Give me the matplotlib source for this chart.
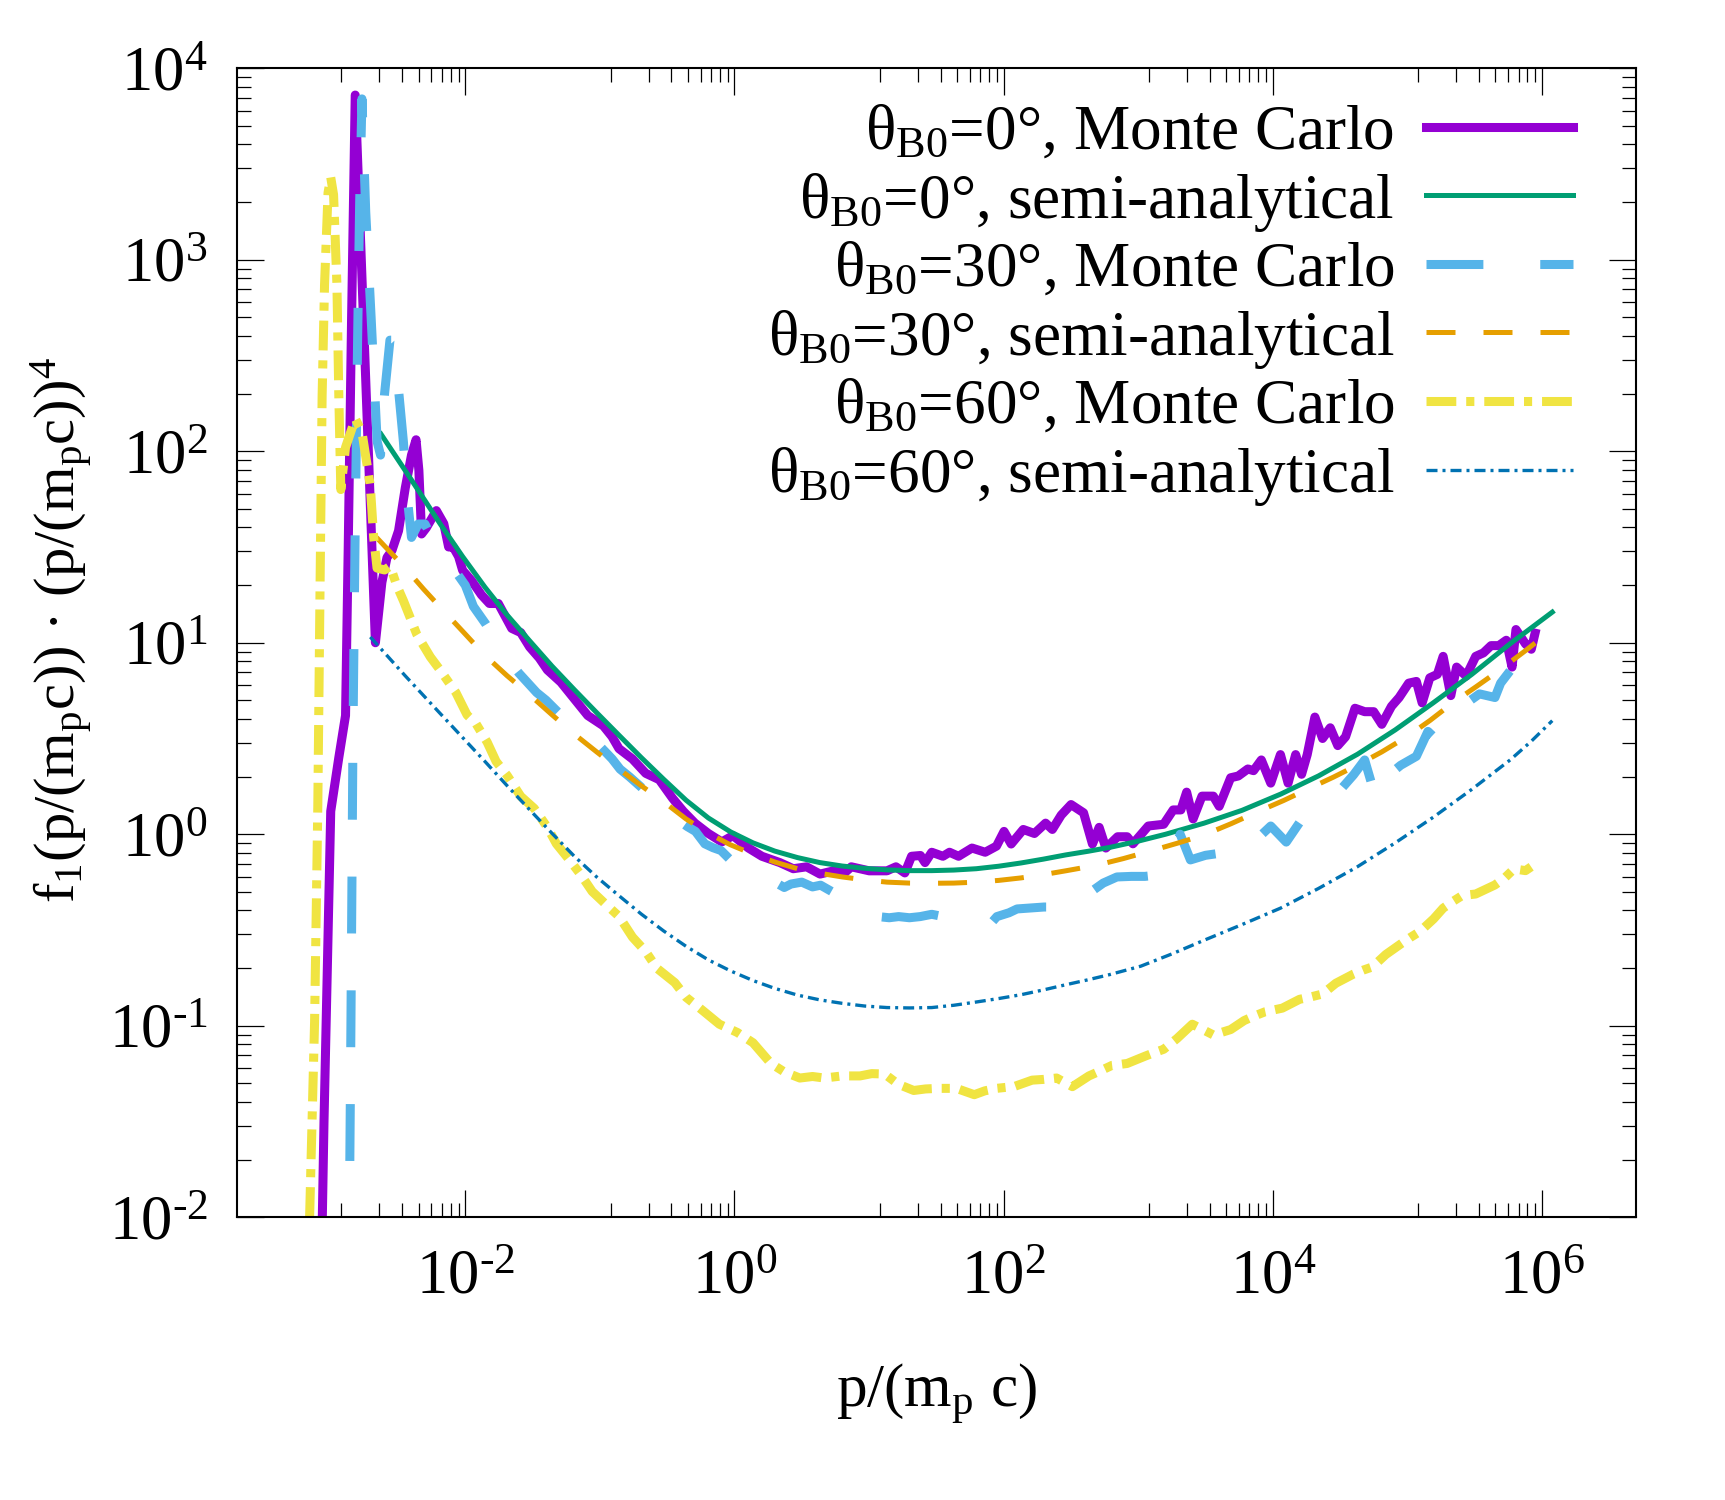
import numpy as np
import matplotlib
matplotlib.use("Agg")
import matplotlib.pyplot as plt
from matplotlib.ticker import FixedLocator, FuncFormatter, LogLocator, NullFormatter

plt.rcParams['font.family'] = ['Liberation Serif', 'DejaVu Serif']
plt.rcParams['mathtext.fontset'] = 'custom'
plt.rcParams['mathtext.rm'] = 'Liberation Serif'
plt.rcParams['mathtext.it'] = 'Liberation Serif:italic'
plt.rcParams['mathtext.default'] = 'regular'

# values, as log10(p/(m_p c)) and log10(f1 * p^4)
# theta_B0 = 0, Monte Carlo
mc0_lp = [-3.07, -3.05, -3.00, -2.94, -2.89, -2.87, -2.845, -2.818, -2.78, -2.74,
          -2.70, -2.668, -2.62, -2.582, -2.545, -2.496, -2.446, -2.40, -2.366, -2.345,
          -2.325, -2.29, -2.215, -2.16, -2.124, -2.09, -2.05, -2.02, -1.953, -1.88,
          -1.821, -1.755, -1.655, -1.588, -1.522, -1.45, -1.39, -1.29, -1.19, -1.09,
          -0.974, -0.91, -0.858, -0.758, -0.659, -0.559, -0.46, -0.38, -0.294, -0.194,
          -0.094, -0.011, 0.104, 0.204, 0.337, 0.437, 0.536, 0.636, 0.736, 0.818,
          0.868, 1.001, 1.133, 1.200, 1.266, 1.316, 1.382, 1.416, 1.466, 1.549,
          1.598, 1.665, 1.765, 1.863, 1.947, 2.003, 2.056, 2.146, 2.229, 2.312,
          2.362, 2.428, 2.501, 2.594, 2.660, 2.710, 2.760, 2.847, 2.918, 2.961,
          3.075, 3.189, 3.260, 3.317, 3.360, 3.408, 3.474, 3.558, 3.602, 3.687,
          3.743, 3.815, 3.857, 3.915, 3.985, 4.057, 4.114, 4.170, 4.214, 4.256,
          4.313, 4.370, 4.427, 4.483, 4.541, 4.611, 4.683, 4.75, 4.81, 4.882,
          4.939, 5.010, 5.067, 5.110, 5.167, 5.223, 5.266, 5.323, 5.366, 5.437,
          5.508, 5.565, 5.622, 5.679, 5.735, 5.778, 5.807, 5.878, 5.921, 5.949]
mc0_lf = [-2.3, -1.5, 0.12, 0.40, 0.62, 1.50, 2.70, 3.86, 3.14, 2.37,
          1.61, 1.00, 1.315, 1.445, 1.482, 1.585, 1.809, 1.98, 2.06, 1.90,
          1.568, 1.60, 1.69, 1.622, 1.50, 1.50, 1.45, 1.378, 1.324, 1.25,
          1.205, 1.205, 1.075, 1.053, 0.978, 0.92, 0.858, 0.794, 0.707, 0.620,
          0.566, 0.51, 0.447, 0.393, 0.318, 0.285, 0.188, 0.12, 0.058, 0.004,
          -0.040, -0.007, -0.072, -0.115, -0.148, -0.180, -0.170, -0.208, -0.191, -0.202,
          -0.170, -0.191, -0.191, -0.170, -0.202, -0.115, -0.111, -0.148, -0.094, -0.115,
          -0.094, -0.115, -0.072, -0.094, -0.062, 0.015, -0.051, 0.025, 0.004, 0.058,
          0.025, 0.100, 0.155, 0.112, -0.051, 0.036, -0.072, -0.013, -0.013, -0.050,
          0.043, 0.052, 0.127, 0.127, 0.220, 0.080, 0.199, 0.199, 0.146, 0.295,
          0.304, 0.341, 0.332, 0.388, 0.267, 0.416, 0.267, 0.416, 0.313, 0.416,
          0.612, 0.500, 0.556, 0.463, 0.509, 0.658, 0.640, 0.64, 0.574, 0.668,
          0.714, 0.789, 0.798, 0.686, 0.817, 0.835, 0.929, 0.724, 0.873, 0.826,
          0.929, 0.947, 0.985, 0.985, 1.013, 0.873, 1.069, 0.994, 0.966, 1.050]

# theta_B0 = 0, semi-analytical
sa0_lp = [-2.627, -2.40, -2.186, -2.02, -1.854, -1.69, -1.522, -1.356, -1.19, -1.024,
          -0.858, -0.692, -0.526, -0.36, -0.194, -0.028, 0.138, 0.30, 0.469, 0.635,
          0.801, 0.967, 1.133, 1.30, 1.466, 1.63, 1.797, 1.963, 2.129, 2.295,
          2.461, 2.627, 2.793, 3.0, 3.203, 3.49, 3.772, 4.06, 4.341, 4.63,
          4.91, 5.19, 5.479, 5.764, 6.077]
sa0_lf = [2.09, 1.85, 1.62, 1.45, 1.29, 1.145, 1.01, 0.878, 0.755, 0.635,
          0.517, 0.400, 0.287, 0.178, 0.085, 0.012, -0.045, -0.088, -0.122, -0.148,
          -0.166, -0.178, -0.186, -0.190, -0.190, -0.187, -0.180, -0.167, -0.150, -0.130,
          -0.108, -0.089, -0.068, -0.036, 0.0, 0.058, 0.125, 0.21, 0.305, 0.418,
          0.545, 0.685, 0.835, 0.995, 1.16]

# theta_B0 = 30, Monte Carlo
mc30_lp = [-2.865, -2.85, -2.835, -2.82, -2.80, -2.785, -2.768, -2.74, -2.70, -2.655,
           -2.63, -2.60, -2.56, -2.53, -2.50, -2.46, -2.43, -2.40, -2.35, -2.30,
           -2.25, -2.20, -2.15, -2.10, -2.05, -2.00, -1.94, -1.85, -1.78, -1.72,
           -1.60, -1.47, -1.40, -1.30, -1.19, -1.10, -1.00, -0.91, -0.85, -0.78,
           -0.70, -0.64, -0.55, -0.45, -0.35, -0.29, -0.22, -0.16, -0.10, -0.01,
           0.10, 0.20, 0.30, 0.37, 0.42, 0.50, 0.58, 0.64, 0.70, 0.80,
           0.90, 1.00, 1.067, 1.15, 1.22, 1.30, 1.38, 1.466, 1.55, 1.65,
           1.75, 1.847, 1.90, 1.95, 2.04, 2.10, 2.18, 2.30, 2.40, 2.527,
           2.62, 2.67, 2.74, 2.842, 2.95, 3.05, 3.20, 3.312, 3.388, 3.50,
           3.60, 3.70, 3.80, 3.857, 3.92, 3.985, 4.10, 4.20, 4.284, 4.384,
           4.50, 4.60, 4.683, 4.768, 4.82, 4.868, 4.95, 5.067, 5.153, 5.209,
           5.309, 5.40, 5.47, 5.536, 5.651, 5.693, 5.764, 5.821, 5.88, 5.94]
mc30_lf = [-2.3, -1.0, 0.5, 1.5, 2.6, 3.3, 3.84, 3.25, 2.70, 2.05,
           1.98, 2.30, 2.58, 2.58, 2.35, 2.05, 1.75, 1.55, 1.62, 1.62,
           1.55, 1.48, 1.45, 1.40, 1.35, 1.30, 1.19, 1.10, 1.02, 0.945,
           0.84, 0.74, 0.70, 0.63, 0.58, 0.52, 0.46, 0.394, 0.34, 0.30,
           0.25, 0.21, 0.15, 0.09, 0.04, 0.015, -0.05, -0.07, -0.085, -0.148,
           -0.19, -0.22, -0.25, -0.278, -0.26, -0.25, -0.275, -0.266, -0.29, -0.33,
           -0.37, -0.41, -0.43, -0.436, -0.43, -0.436, -0.43, -0.418, -0.43, -0.44,
           -0.45, -0.462, -0.47, -0.43, -0.41, -0.39, -0.386, -0.38, -0.38, -0.375,
           -0.36, -0.29, -0.255, -0.223, -0.22, -0.22, -0.209, 0.0, -0.134, -0.11,
           -0.10, -0.094, -0.097, -0.022, 0.0, 0.043, -0.041, 0.062, 0.127, 0.164,
           0.23, 0.31, 0.388, 0.183, 0.28, 0.313, 0.36, 0.407, 0.537, 0.50,
           0.574, 0.64, 0.70, 0.733, 0.714, 0.789, 0.854, 0.817, 0.90, 0.98]

# theta_B0 = 30, semi-analytical
sa30_lp = [-2.66, -2.446, -2.31, -2.186, -2.02, -1.854, -1.69, -1.522, -1.356, -1.19,
           -1.024, -0.858, -0.692, -0.526, -0.36, -0.194, -0.03, 0.138, 0.30, 0.469,
           0.635, 0.801, 0.967, 1.133, 1.30, 1.466, 1.63, 1.797, 1.963, 2.129,
           2.295, 2.461, 2.69, 2.89, 3.089, 3.29, 3.488, 3.69, 3.886, 4.08,
           4.27, 4.45, 4.626, 4.81, 4.996, 5.17, 5.337, 5.51, 5.679, 5.88,
           6.077]
sa30_lf = [1.55, 1.39, 1.28, 1.185, 1.06, 0.934, 0.828, 0.728, 0.624, 0.523,
           0.43, 0.340, 0.253, 0.17, 0.08, 0.005, -0.055, -0.104, -0.145, -0.18,
           -0.204, -0.223, -0.238, -0.250, -0.255, -0.256, -0.255, -0.250, -0.241, -0.228,
           -0.211, -0.191, -0.162, -0.127, -0.088, -0.047, -0.004, 0.055, 0.117, 0.176,
           0.239, 0.298, 0.36, 0.43, 0.509, 0.595, 0.686, 0.77, 0.854, 0.96,
           1.069]

# theta_B0 = 60, Monte Carlo
mc60_lp = [-3.17, -3.157, -3.12, -3.096, -3.079, -3.064, -3.046, -3.02, -3.00, -2.979,
           -2.954, -2.94, -2.925, -2.89, -2.818, -2.768, -2.706, -2.681, -2.656, -2.60,
           -2.558, -2.51, -2.459, -2.36, -2.26, -2.19, -2.07, -1.987, -1.92, -1.837,
           -1.771, -1.688, -1.588, -1.488, -1.39, -1.323, -1.223, -1.14, -1.057, -0.959,
           -0.858, -0.758, -0.659, -0.576, -0.443, -0.36, -0.244, -0.112, 0.021, 0.138,
           0.271, 0.37, 0.486, 0.58, 0.668, 0.801, 0.933, 1.02, 1.116, 1.216,
           1.332, 1.42, 1.515, 1.649, 1.782, 1.86, 1.947, 2.08, 2.212, 2.30,
           2.394, 2.511, 2.634, 2.72, 2.805, 2.918, 3.047, 3.12, 3.189, 3.288,
           3.402, 3.48, 3.558, 3.687, 3.787, 3.86, 3.943, 4.071, 4.199, 4.28,
           4.37, 4.469, 4.597, 4.67, 4.74, 4.84, 4.953, 5.02, 5.095, 5.195,
           5.266, 5.34, 5.408, 5.508, 5.65, 5.72, 5.793, 5.878, 5.92]
mc60_lf = [-2.3, -2.0, -0.98, 0.15, 1.32, 2.29, 2.87, 3.35, 3.43, 3.34,
           2.87, 2.29, 1.80, 2.02, 2.17, 2.10, 1.82, 1.55, 1.39, 1.38,
           1.40, 1.30, 1.218, 1.043, 0.926, 0.86, 0.74, 0.623, 0.577, 0.48,
           0.38, 0.306, 0.198, 0.135, 0.036, -0.05, -0.137, -0.213, -0.299, -0.364,
           -0.429, -0.537, -0.613, -0.70, -0.775, -0.851, -0.916, -0.992, -1.035, -1.089,
           -1.197, -1.241, -1.273, -1.265, -1.273, -1.262, -1.262, -1.25, -1.252, -1.305,
           -1.338, -1.33, -1.327, -1.327, -1.36, -1.34, -1.327, -1.317, -1.284, -1.28,
           -1.273, -1.318, -1.262, -1.235, -1.207, -1.197, -1.16, -1.14, -1.123, -1.067,
           -0.992, -1.02, -1.048, -1.02, -0.973, -0.95, -0.927, -0.908, -0.862, -0.85,
           -0.834, -0.778, -0.731, -0.71, -0.693, -0.628, -0.572, -0.54, -0.507, -0.442,
           -0.386, -0.35, -0.32, -0.312, -0.265, -0.23, -0.181, -0.19, -0.17]

# theta_B0 = 60, semi-analytical
sa60_lp = [-2.706, -2.45, -2.186, -2.02, -1.854, -1.69, -1.522, -1.356, -1.19, -1.024,
           -0.858, -0.692, -0.526, -0.36, -0.194, -0.028, 0.138, 0.30, 0.469, 0.635,
           0.801, 0.967, 1.133, 1.30, 1.466, 1.63, 1.797, 1.963, 2.129, 2.295,
           2.461, 2.627, 2.793, 3.019, 3.25, 3.488, 3.77, 4.057, 4.34, 4.626,
           4.91, 5.195, 5.48, 5.764, 5.92, 6.077]
sa60_lf = [1.03, 0.83, 0.63, 0.505, 0.38, 0.254, 0.128, 0.005, -0.115, -0.223,
           -0.321, -0.417, -0.505, -0.585, -0.656, -0.714, -0.764, -0.805, -0.840, -0.865,
           -0.883, -0.897, -0.905, -0.907, -0.905, -0.893, -0.876, -0.858, -0.838, -0.813,
           -0.786, -0.760, -0.732, -0.689, -0.625, -0.554, -0.472, -0.386, -0.283, -0.171,
           -0.045, 0.090, 0.235, 0.388, 0.485, 0.593]

labels = ['θ$_{B0}$=0°, Monte Carlo',
          'θ$_{B0}$=0°, semi-analytical',
          'θ$_{B0}$=30°, Monte Carlo',
          'θ$_{B0}$=30°, semi-analytical',
          'θ$_{B0}$=60°, Monte Carlo',
          'θ$_{B0}$=60°, semi-analytical']

x_major = [1e-4, 1e-2, 1e0, 1e2, 1e4, 1e6, 1e8]

FS_TICK = 45
FS_LEG = 45.5

fig = plt.figure(figsize=(17.25, 15), dpi=100)
ax = fig.add_axes([0.1372, 0.1885, 0.8112, 0.766])

series = [
    (mc0_lp, mc0_lf, '#9400D3', 6.5, '-'),
    (sa0_lp, sa0_lf, '#009E73', 3.6, '-'),
    (mc30_lp, mc30_lf, '#56B4E9', 6.5, (0, (6.3, 6.3))),
    (sa30_lp, sa30_lf, '#E69F00', 3.6, (0, (5.8, 5.6))),
    (mc60_lp, mc60_lf, '#F0E442', 6.5, (0, (3.3, 1.1, 0.9, 1.1))),
    (sa60_lp, sa60_lf, '#0072B2', 2.4, (0, (3.3, 1.5, 0.9, 1.5))),
]
for (lp, lf, color, lw, ls), lab in zip(series, labels):
    ax.plot(10.0 ** np.array(lp), 10.0 ** np.array(lf), color=color, lw=lw,
            ls=ls, label=lab)

ax.set_xscale('log')
ax.set_yscale('log')
ax.set_xlim(2e-4, 5e6)
ax.set_ylim(1e-2, 1e4)

# gnuplot style minor tics: 8 linear steps between labelled decades
x_minor = []
for lo, hi in zip(x_major[:-1], x_major[1:]):
    x_minor += [lo + j * (hi - lo) / 9 for j in range(1, 9)]


def pow_label(v, pos):
    e = int(round(np.log10(v)))
    if e < 0:
        return r'$10^{\text{-}%d}$' % (-e)
    return r'$10^{%d}$' % e


fmt = FuncFormatter(pow_label)
ax.xaxis.set_major_locator(FixedLocator(x_major))
ax.xaxis.set_minor_locator(FixedLocator(x_minor))
ax.xaxis.set_major_formatter(fmt)
ax.xaxis.set_minor_formatter(NullFormatter())
ax.yaxis.set_major_locator(LogLocator(base=10, numticks=20))
ax.yaxis.set_minor_locator(LogLocator(base=10, subs=np.arange(2, 10), numticks=20))
ax.yaxis.set_major_formatter(fmt)
ax.yaxis.set_minor_formatter(NullFormatter())

ax.tick_params(which='both', direction='in', top=True, right=True, width=0.9)
ax.tick_params(which='major', length=19.5, labelsize=FS_TICK)
ax.tick_params(which='minor', length=10)
ax.tick_params(axis='x', which='major', pad=23)
ax.tick_params(axis='y', which='major', pad=21)
for sp in ax.spines.values():
    sp.set_linewidth(1.5)

ax.set_xlabel('p/(m$_{p}$ c)', fontsize=44)
ax.xaxis.set_label_coords(0.5, -0.126)
ax.set_ylabel('f$_{1}$(p/(m$_{p}$c)) · (p/(m$_{p}$c))$^{4}$', fontsize=42)
ax.yaxis.set_label_coords(-0.101, 0.511)

ax.legend(loc='upper right', bbox_to_anchor=(0.9547, 0.9685), markerfirst=False,
          frameon=False, fontsize=FS_LEG, handlelength=2.32, handletextpad=0.5,
          labelspacing=0.125, borderpad=0, borderaxespad=0)

fig.savefig('out.png', dpi=100)
